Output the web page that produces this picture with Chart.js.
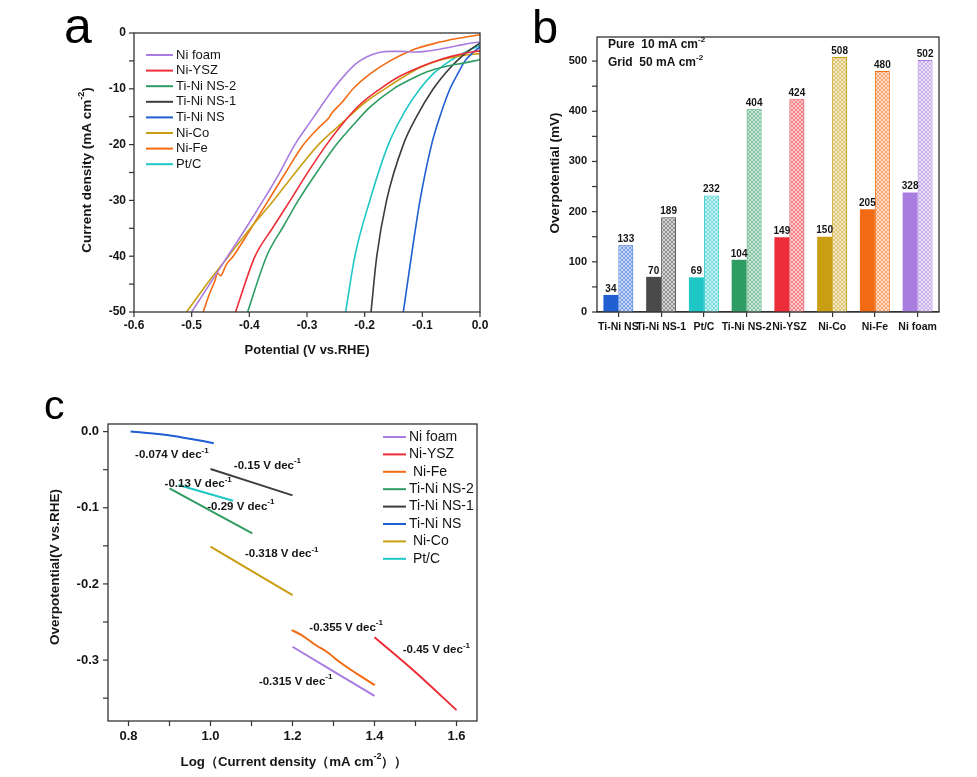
<!DOCTYPE html>
<html>
<head>
<meta charset="utf-8">
<script src="https://cdn.jsdelivr.net/npm/chart.js@4.4.1/dist/chart.umd.min.js"></script>
<style>
  body { margin: 0; background: #fff; width: 977px; height: 777px; position: relative; overflow: hidden; }
  canvas { position: absolute; }
</style>
</head>
<body>
<canvas id="chartA" width="460" height="370" style="left:40px;top:0px"></canvas>
<canvas id="chartB" width="440" height="350" style="left:530px;top:0px"></canvas>
<canvas id="chartC" width="480" height="397" style="left:20px;top:380px"></canvas>
<script>
// ---- panel a : polarisation curves (potential V vs RHE, current density mA cm-2)
const niFoamV = [-0.500, -0.450, -0.400, -0.376, -0.350, -0.321, -0.290, -0.254, -0.235, -0.215, -0.195, -0.175, -0.155, -0.135, -0.115, -0.095, -0.070, -0.040, -0.015, 0.000];
const niFoamJ = [-50, -42, -34, -30, -25.5, -20, -15.3, -10, -7.6, -5.5, -4.2, -3.5, -3.3, -3.3, -3.4, -3.3, -2.9, -2.3, -1.8, -1.6];
const niYszV = [-0.424, -0.390, -0.360, -0.329, -0.300, -0.266, -0.240, -0.210, -0.173, -0.140, -0.104, -0.070, -0.046, -0.020, 0.000];
const niYszJ = [-50, -40, -35, -30, -25.2, -20, -16.5, -13, -10, -7.8, -6.1, -4.8, -4.1, -3.5, -3.2];
const tiNiNs2V = [-0.403, -0.370, -0.340, -0.315, -0.280, -0.249, -0.220, -0.190, -0.150, -0.120, -0.093, -0.060, -0.029, 0.000];
const tiNiNs2J = [-50, -40, -34.5, -30, -24.5, -20, -16.5, -13.2, -10, -8.3, -7, -6, -5.4, -4.8];
const tiNiNs1V = [-0.189, -0.179, -0.162, -0.133, -0.110, -0.081, -0.060, -0.040, -0.020, 0.000];
const tiNiNs1J = [-50, -40, -30, -20, -15, -10, -7.2, -5, -3.2, -1.8];
const tiNiNsV = [-0.133, -0.119, -0.104, -0.084, -0.068, -0.052, -0.038, -0.026, -0.012, 0.000];
const tiNiNsJ = [-50, -40, -30, -20, -14.5, -10, -7.2, -5, -3.5, -2.5];
const niCoV = [-0.509, -0.470, -0.436, -0.400, -0.358, -0.320, -0.280, -0.240, -0.200, -0.165, -0.130, -0.104, -0.070, -0.035, 0.000];
const niCoJ = [-50, -44.5, -40, -35.2, -30, -25, -20, -16.2, -12.5, -10, -7.7, -6.2, -4.9, -4.1, -3.7];
const niFeV = [-0.480, -0.470, -0.460, -0.455, -0.450, -0.440, -0.428, -0.400, -0.367, -0.340, -0.306, -0.280, -0.262, -0.258, -0.240, -0.220, -0.190, -0.156, -0.116, -0.080, -0.040, 0.000];
const niFeJ = [-50, -47, -44.5, -43, -43.5, -41.5, -40, -35.5, -30, -25.5, -20, -17, -15.2, -14.5, -12.5, -10, -7.3, -5, -3, -1.9, -1, -0.3];
const ptCV = [-0.233, -0.217, -0.191, -0.159, -0.130, -0.104, -0.080, -0.052, -0.025, 0.000];
const ptCJ = [-50, -40, -30, -20, -14, -10, -7.2, -5, -3.4, -2.2];
const aXTicks = [-0.6, -0.5, -0.4, -0.3, -0.2, -0.1, 0.0];
const aXLabels = ['-0.6', '-0.5', '-0.4', '-0.3', '-0.2', '-0.1', '0.0'];
const aYTicks = [-50, -40, -30, -20, -10, 0];
const aYLabels = ['-50', '-40', '-30', '-20', '-10', '0'];
const aYMinor = [-45, -35, -25, -15, -5];

// ---- panel b : overpotential bars
const catsB = ['Ti-Ni NS', 'Ti-Ni NS-1', 'Pt/C', 'Ti-Ni NS-2', 'Ni-YSZ', 'Ni-Co', 'Ni-Fe', 'Ni foam'];
const pureVals = [34, 70, 69, 104, 149, 150, 205, 238];
const pureLabels = ['34', '70', '69', '104', '149', '150', '205', '328'];
const gridVals = [133, 189, 232, 404, 424, 508, 480, 502];
const gridLabels = ['133', '189', '232', '404', '424', '508', '480', '502'];
const bYTicks = [0, 100, 200, 300, 400, 500];
const bYLabels = ['0', '100', '200', '300', '400', '500'];
const bYMinor = [50, 150, 250, 350, 450];

// ---- panel c : Tafel plots (log j, overpotential V)
const tNiFoamX = [1.20, 1.40];
const tNiFoamY = [-0.2825, -0.347];
const tNiYszX = [1.40, 1.50, 1.60];
const tNiYszY = [-0.270, -0.316, -0.3657];
const tNiFeX = [1.198, 1.22, 1.26, 1.28, 1.32, 1.37, 1.401];
const tNiFeY = [-0.2606, -0.2665, -0.2815, -0.2878, -0.3045, -0.3225, -0.333];
const tTiNiNs2X = [0.90, 1.102];
const tTiNiNs2Y = [-0.0745, -0.1336];
const tTiNiNs1X = [1.00, 1.20];
const tTiNiNs1Y = [-0.049, -0.0837];
const tTiNiNsX = [0.805, 0.906, 1.008];
const tTiNiNsY = [0.0, -0.0053, -0.0153];
const tNiCoX = [1.00, 1.20];
const tNiCoY = [-0.151, -0.2146];
const tPtCX = [0.922, 1.055];
const tPtCY = [-0.070, -0.0907];
const slopeText = ['-0.074', '-0.15', '-0.13', '-0.29', '-0.318', '-0.355', '-0.45', '-0.315'];
const slopeAtX = [0.816, 1.057, 0.888, 0.992, 1.084, 1.241, 1.469, 1.118];
const slopeAtY = [-0.031, -0.045, -0.069, -0.0985, -0.161, -0.258, -0.287, -0.3285];
const cXTicks = [0.8, 1.0, 1.2, 1.4, 1.6];
const cXLabels = ['0.8', '1.0', '1.2', '1.4', '1.6'];
const cXMinor = [0.9, 1.1, 1.3, 1.5];
const cYTicks = [-0.3, -0.2, -0.1, 0.0];
const cYLabels = ['-0.3', '-0.2', '-0.1', '0.0'];
const cYMinor = [-0.35, -0.25, -0.15, -0.05];

const FONT = "'Liberation Sans', Arial, sans-serif";
const INK = '#151515';
const AXIS = '#333';
const col = {
  niFoam: '#a97ce0', niYsz: '#ec2d37', tiNiNs2: '#2f9d63', tiNiNs1: '#3c3c3c',
  tiNiNs: '#1f5fd2', niCo: '#c99e12', niFe: '#f26b14', ptC: '#1fc6c6'
};
Chart.defaults.font.family = FONT;
Chart.defaults.color = INK;
Chart.defaults.animation = false;

function pts(xs, ys) { return xs.map((v, i) => ({ x: v, y: ys[i] })); }

// text with superscripts: parts are strings or {sup: '...'}
function rich(ctx, x, y, parts, size, o) {
  o = o || {};
  const w8 = o.weight || 'bold';
  const base = w8 + ' ' + size + 'px ' + FONT;
  const sup = w8 + ' ' + Math.round(size * 0.68) + 'px ' + FONT;
  ctx.save();
  ctx.translate(x, y);
  if (o.rotate) ctx.rotate(o.rotate);
  let w = 0;
  parts.forEach(p => {
    ctx.font = typeof p === 'string' ? base : sup;
    w += ctx.measureText(typeof p === 'string' ? p : p.sup).width;
  });
  let cx = o.align === 'left' ? 0 : -w / 2;
  ctx.textBaseline = 'middle';
  ctx.textAlign = 'left';
  ctx.fillStyle = o.color || INK;
  parts.forEach(p => {
    const s = typeof p === 'string' ? p : p.sup;
    ctx.font = typeof p === 'string' ? base : sup;
    ctx.fillText(s, cx, typeof p === 'string' ? 0 : -size * 0.42);
    cx += ctx.measureText(s).width;
  });
  ctx.restore();
}

function frame(chart) {
  const a = chart.chartArea, ctx = chart.ctx;
  ctx.save();
  ctx.strokeStyle = AXIS;
  ctx.lineWidth = 1.3;
  ctx.strokeRect(a.left, a.top, a.right - a.left, a.bottom - a.top);
  ctx.restore();
}

// outward tick marks + bold labels, placed through the chart's own scale
function axisTicks(chart, id, majors, labels, minors, size, pad) {
  const s = chart.scales[id], a = chart.chartArea, ctx = chart.ctx;
  const horiz = s.isHorizontal();
  ctx.save();
  ctx.strokeStyle = AXIS;
  ctx.lineWidth = 1.2;
  majors.concat(minors).forEach(v => {
    const p = s.getPixelForValue(v);
    ctx.beginPath();
    if (horiz) { ctx.moveTo(p, a.bottom); ctx.lineTo(p, a.bottom + 5); }
    else { ctx.moveTo(a.left, p); ctx.lineTo(a.left - 5, p); }
    ctx.stroke();
  });
  ctx.font = 'bold ' + size + 'px ' + FONT;
  ctx.fillStyle = INK;
  majors.forEach((v, i) => {
    const p = s.getPixelForValue(v);
    if (horiz) {
      ctx.textAlign = 'center'; ctx.textBaseline = 'top';
      ctx.fillText(labels[i], p, a.bottom + 5 + pad);
    } else {
      ctx.textAlign = 'right'; ctx.textBaseline = 'middle';
      ctx.fillText(labels[i], a.left - 5 - pad, p);
    }
  });
  ctx.restore();
}

function letter(ctx, s, x, y, size) {
  ctx.save();
  ctx.font = size + 'px ' + FONT;
  ctx.fillStyle = '#000';
  ctx.textBaseline = 'alphabetic';
  ctx.fillText(s, x, y);
  ctx.restore();
}

function lineLegend(chart, x0, x1, tx, y0, dy, size) {
  const ctx = chart.ctx;
  chart.data.datasets.forEach((d, i) => {
    const y = y0 + i * dy;
    ctx.save();
    ctx.strokeStyle = d.borderColor;
    ctx.lineWidth = 2;
    ctx.beginPath(); ctx.moveTo(x0, y); ctx.lineTo(x1, y); ctx.stroke();
    ctx.font = size + 'px ' + FONT;
    ctx.fillStyle = INK;
    ctx.textBaseline = 'middle';
    ctx.fillText(d.label, tx, y);
    ctx.restore();
  });
}

function linAxis(min, max, fit) {
  return {
    type: 'linear', min: min, max: max,
    border: { display: false }, grid: { display: false }, ticks: { display: false },
    afterFit: fit
  };
}

function lineSet(label, color, xs, ys, width) {
  return {
    label: label, data: pts(xs, ys), borderColor: color, backgroundColor: color,
    borderWidth: width, pointRadius: 0, fill: false, cubicInterpolationMode: 'monotone'
  };
}

/* ---------- a ---------- */
new Chart(document.getElementById('chartA'), {
  type: 'line',
  data: {
    datasets: [
      lineSet('Ni foam', col.niFoam, niFoamV, niFoamJ, 1.6),
      lineSet('Ni-YSZ', col.niYsz, niYszV, niYszJ, 1.6),
      lineSet('Ti-Ni NS-2', col.tiNiNs2, tiNiNs2V, tiNiNs2J, 1.6),
      lineSet('Ti-Ni NS-1', col.tiNiNs1, tiNiNs1V, tiNiNs1J, 1.6),
      lineSet('Ti-Ni NS', col.tiNiNs, tiNiNsV, tiNiNsJ, 1.6),
      lineSet('Ni-Co', col.niCo, niCoV, niCoJ, 1.6),
      lineSet('Ni-Fe', col.niFe, niFeV, niFeJ, 1.6),
      lineSet('Pt/C', col.ptC, ptCV, ptCJ, 1.6)
    ]
  },
  options: {
    responsive: false,
    layout: { padding: { left: 0, right: 20, top: 33, bottom: 0 } },
    plugins: { legend: { display: false }, tooltip: { enabled: false } },
    scales: {
      x: linAxis(-0.6, 0, s => { s.height = 58; }),
      y: linAxis(-50, 0, s => { s.width = 94; })
    }
  },
  plugins: [{
    id: 'decorA',
    afterDraw(chart) {
      const ctx = chart.ctx;
      frame(chart);
      axisTicks(chart, 'x', aXTicks, aXLabels, [], 12, 3);
      axisTicks(chart, 'y', aYTicks, aYLabels, aYMinor, 12, 3);
      lineLegend(chart, 106, 133, 136, 55, 15.6, 13);
      rich(ctx, 267, 350, ['Potential (V vs.RHE)'], 13);
      rich(ctx, 47, 170, ['Current density (mA cm', { sup: '-2' }, ')'], 13.5, { rotate: -Math.PI / 2 });
      letter(ctx, 'a', 24, 43, 50);
    }
  }]
});

/* ---------- b ---------- */
const barColors = [col.tiNiNs, '#4a4a4a', col.ptC, col.tiNiNs2, col.niYsz, col.niCo, col.niFe, col.niFoam];

function crossHatch(color) {
  const c = document.createElement('canvas');
  c.width = 4; c.height = 4;
  const g = c.getContext('2d');
  g.fillStyle = '#fff'; g.fillRect(0, 0, 4, 4);
  g.globalAlpha = 0.25; g.fillStyle = color; g.fillRect(0, 0, 4, 4);
  g.globalAlpha = 0.65; g.strokeStyle = color; g.lineWidth = 0.7;
  g.beginPath(); g.moveTo(0, 0); g.lineTo(4, 4); g.moveTo(4, 0); g.lineTo(0, 4); g.stroke();
  return g.createPattern(c, 'repeat');
}

new Chart(document.getElementById('chartB'), {
  type: 'bar',
  data: {
    labels: catsB,
    datasets: [
      { label: 'Pure', data: pureVals, backgroundColor: barColors, borderWidth: 0,
        categoryPercentage: 0.7, barPercentage: 1.0 },
      { label: 'Grid', data: gridVals, backgroundColor: barColors.map(crossHatch), borderColor: barColors,
        borderWidth: 1, categoryPercentage: 0.7, barPercentage: 1.0 }
    ]
  },
  options: {
    responsive: false,
    layout: { padding: { left: 0, right: 31, top: 37, bottom: 0 } },
    plugins: { legend: { display: false }, tooltip: { enabled: false } },
    scales: {
      x: {
        type: 'category',
        border: { display: true, color: AXIS, width: 1.3 },
        grid: { offset: false, drawOnChartArea: false, drawTicks: true, tickLength: 5, color: AXIS, lineWidth: 1.2 },
        afterFit: s => { s.height = 38; },
        ticks: { autoSkip: false, maxRotation: 0, padding: 4, font: { size: 10.5, weight: 'bold' } }
      },
      y: linAxis(0, 548, s => { s.width = 67; })
    }
  },
  plugins: [{
    id: 'decorB',
    afterDraw(chart) {
      const ctx = chart.ctx;
      frame(chart);
      axisTicks(chart, 'y', bYTicks, bYLabels, bYMinor, 11, 5);
      [pureLabels, gridLabels].forEach((labs, di) => {
        chart.getDatasetMeta(di).data.forEach((bar, j) => {
          ctx.save();
          ctx.font = 'bold 10px ' + FONT;
          ctx.fillStyle = INK;
          ctx.textAlign = 'center';
          ctx.textBaseline = 'bottom';
          ctx.fillText(labs[j], bar.x, bar.y - 1);
          ctx.restore();
        });
      });
      rich(ctx, 78, 45, ['Pure  10 mA cm', { sup: '-2' }], 12, { align: 'left' });
      rich(ctx, 78, 63, ['Grid  50 mA cm', { sup: '-2' }], 12, { align: 'left' });
      rich(ctx, 25, 173, ['Overpotential (mV)'], 13.5, { rotate: -Math.PI / 2 });
      letter(ctx, 'b', 2, 43, 47);
    }
  }]
});

/* ---------- c ---------- */
new Chart(document.getElementById('chartC'), {
  type: 'line',
  data: {
    datasets: [
      lineSet('Ni foam', col.niFoam, tNiFoamX, tNiFoamY, 2),
      lineSet('Ni-YSZ', col.niYsz, tNiYszX, tNiYszY, 2),
      lineSet(' Ni-Fe', col.niFe, tNiFeX, tNiFeY, 2),
      lineSet('Ti-Ni NS-2', col.tiNiNs2, tTiNiNs2X, tTiNiNs2Y, 2),
      lineSet('Ti-Ni NS-1', col.tiNiNs1, tTiNiNs1X, tTiNiNs1Y, 2),
      lineSet('Ti-Ni NS', col.tiNiNs, tTiNiNsX, tTiNiNsY, 2),
      lineSet(' Ni-Co', col.niCo, tNiCoX, tNiCoY, 2),
      lineSet(' Pt/C', col.ptC, tPtCX, tPtCY, 2)
    ]
  },
  options: {
    responsive: false,
    layout: { padding: { left: 0, right: 23, top: 44, bottom: 0 } },
    plugins: { legend: { display: false }, tooltip: { enabled: false } },
    scales: {
      x: linAxis(0.75, 1.65, s => { s.height = 56; }),
      y: linAxis(-0.38, 0.01, s => { s.width = 88; })
    }
  },
  plugins: [{
    id: 'decorC',
    afterDraw(chart) {
      const ctx = chart.ctx, sx = chart.scales.x, sy = chart.scales.y;
      frame(chart);
      axisTicks(chart, 'x', cXTicks, cXLabels, cXMinor, 13, 4);
      axisTicks(chart, 'y', cYTicks, cYLabels, cYMinor, 13, 4);
      lineLegend(chart, 363, 386, 389, 57, 17.4, 14);
      slopeText.forEach((t, i) => {
        rich(ctx, sx.getPixelForValue(slopeAtX[i]), sy.getPixelForValue(slopeAtY[i]),
             [t + ' V dec', { sup: '-1' }], 11.5, { align: 'left' });
      });
      rich(ctx, 274, 382, ['Log\uFF08Current density\uFF08mA cm', { sup: '-2' }, '\uFF09\uFF09'], 13.3);
      rich(ctx, 35, 187, ['Overpotential(V vs.RHE)'], 13.5, { rotate: -Math.PI / 2 });
      letter(ctx, 'c', 24, 39, 41);
    }
  }]
});
</script>
</body>
</html>
